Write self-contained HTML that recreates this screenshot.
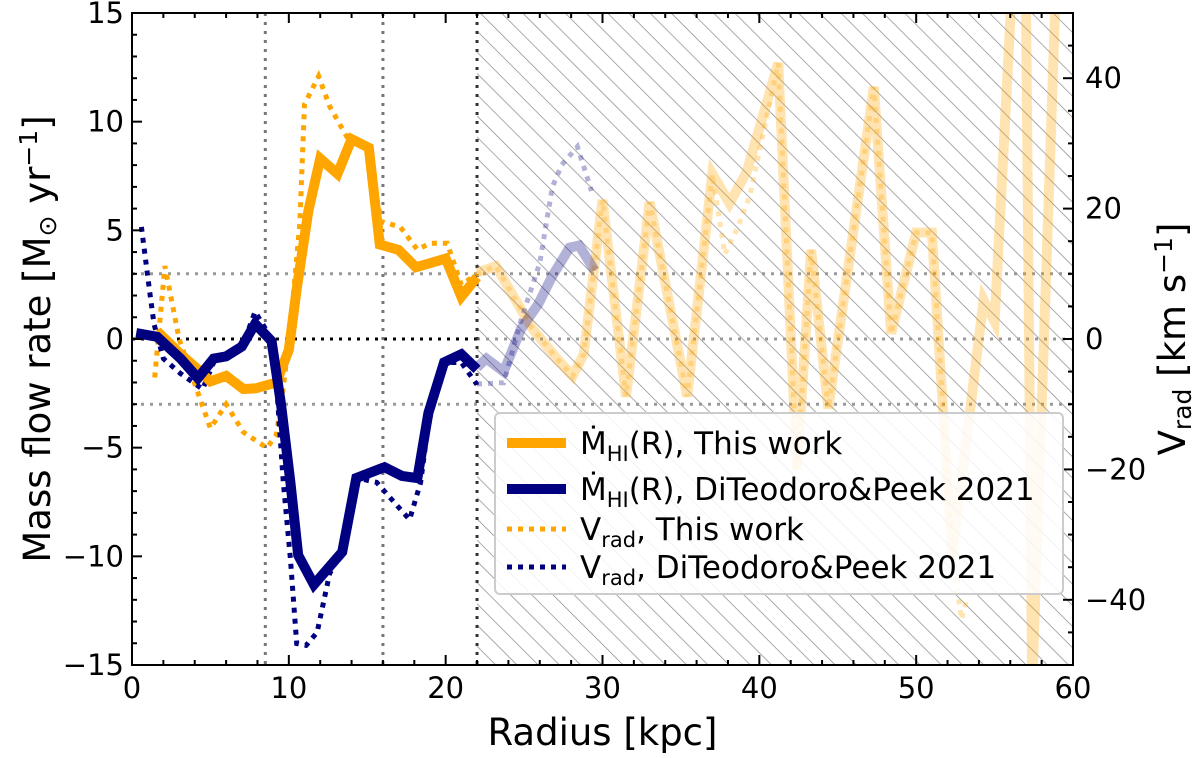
<!DOCTYPE html>
<html><head><meta charset="utf-8"><style>
html,body{margin:0;padding:0;background:#fff;}
svg{display:block;font-family:"DejaVu Sans","Liberation Sans",sans-serif;}
</style></head><body>
<svg id="chart" width="1200" height="758" viewBox="0 0 1200 758" xmlns="http://www.w3.org/2000/svg">
<defs>
<pattern id="hatch" patternUnits="userSpaceOnUse" width="15" height="15" patternTransform="rotate(-45)">
<line x1="0" y1="0" x2="0" y2="15" stroke="#888" stroke-width="1.4"/>
</pattern>
<clipPath id="plotclip"><rect x="132" y="13" width="941" height="652"/></clipPath>
</defs>
<g id="plot" clip-path="url(#plotclip)"></g>
<g id="axes"></g>
</svg>
<script>
const mdotR_this=[1.6,3.1,4.2,5.0,6.0,7.1,7.9,9.2,10.0,10.5,11.25,12.0,13.1,14.0,15.1,15.8,17.0,18.1,20.0,21.0,22.0];
const mdot_this=[0.36,-0.7,-1.4,-1.95,-1.7,-2.3,-2.27,-2.0,-0.5,2.3,5.9,8.3,7.6,9.2,8.8,4.35,4.1,3.3,3.7,1.95,2.85];
const mdotR_thisOut=[22.0,23.2,25.5,27.2,28.1,28.8,30.0,31.5,33.0,35.4,37.0,38.1,39.2,41.2,42.4,43.3,44.4,47.3,48.4,50.0,51.0,52.3,54.3,55.0,56.1,57.0,57.4,58.9,59.5,60];
const mdot_thisOut=[3.05,3.35,0.5,-1.0,-1.7,-0.7,6.4,-2.65,6.3,-2.65,7.6,6.25,7.7,12.7,-6,4.1,-3.2,11.6,0.25,4.9,4.9,-10,1.8,0.8,16,16,-16,16,16,16];
const mdotR_dtp=[0.27,1.6,3.1,4.2,5.2,6.0,7.0,7.85,8.9,9.5,10.1,10.6,11.6,13.4,14.3,16.1,17.2,18.2,18.9,19.9,21.0,22.0];
const mdot_dtp=[0.27,0.1,-0.9,-1.8,-0.9,-0.8,-0.35,0.7,-0.1,-3.0,-6.6,-9.95,-11.3,-9.8,-6.4,-5.9,-6.3,-6.4,-3.4,-1.07,-0.7,-1.4];
const mdotR_dtpOut=[22.0,22.6,23.7,24.8,25.9,26.8,27.9,28.5,29.5];
const mdot_dtpOut=[-1.3,-0.9,-1.5,0.45,1.6,2.9,4.2,4.3,3.15];
const vradR_this=[1.45,2.1,3.0,5.0,6.0,7.1,8.6,9.2,9.6,10.1,10.7,11.0,11.9,12.6,13.7,15.0,15.9,17.1,18.2,19.0,20.1,21.0,22.0];
const vrad_this=[-5.9,11.2,0,-13.7,-10,-14.3,-16.7,-14.7,-8.3,1.7,17.7,36,40.3,35.7,31,29,18,17.2,13.7,14.7,14.7,8.3,10];
const vradR_thisOut=[22.0,23.2,25.5,27.2,28.1,28.8,30.0,31.5,33.0,35.4,37.0,37.8,38.6,39.4,41.2,42.4,43.3,44.4,47.3,48.4,50.0,51.0,52.3,52.9,53.2];
const vrad_thisOut=[10,11.2,1.7,-3.3,-5.7,-2.3,21.3,-8.8,21,-8.8,25.3,13,17,22,42.3,-20,13.7,-10.7,38.7,0.8,16.3,16.3,-33,-43,-40];
const vradR_dtp=[0.6,1.1,1.4,2.0,3.1,4.5,5.2,6.3,7.1,7.85,8.6,9.2,9.65,10.1,10.5,11.1,11.8,12.6,13.5,14.3,15.6,16.7,17.7,18.4,18.9,19.9,21.0,22.0];
const vrad_dtp=[17.2,7.7,2.3,-3,-5.3,-7.7,-3.6,-2.3,-0.7,4.2,1.2,-6.5,-22,-33.7,-46.7,-47,-45,-36,-32,-21.3,-22,-25,-27.7,-22,-13,-3.6,-3.6,-7];
const vradR_dtpOut=[22.0,23.7,24.8,26.0,26.8,27.4,28.4,29.3];
const vrad_dtpOut=[-6.9,-6.7,2.8,11.7,23.3,26.7,29.5,22.7];
const xTicks=[0,10,20,30,40,50,60];
const yTicks=[-15,-10,-5,0,5,10,15];
const y2Ticks=[-40,-20,0,20,40];

const NS="http://www.w3.org/2000/svg";
const X0=132,X1=1073,Y0=665,Y1=13;
const sx=r=>X0+(r-0)/(60-0)*(X1-X0);
const sy=m=>Y0-(m+15)/30*(Y0-Y1);
const sy2=v=>Y0-(v+50)/100*(Y0-Y1);
const plot=document.getElementById('plot'),axes=document.getElementById('axes');
function mk(tag,attrs,parent){const e=document.createElementNS(NS,tag);for(const k in attrs)e.setAttribute(k,attrs[k]);parent.appendChild(e);return e;}

let h=mk('rect',{x:sx(22),y:Y1,width:X1-sx(22),height:Y0-Y1,fill:'url(#hatch)'},plot);


function ref(x1,y1,x2,y2,c,name){const l=mk('line',{x1,y1,x2,y2,stroke:c,'stroke-width':3,'stroke-dasharray':'3,6'},plot);

}
ref(sx(0),sy(3),X1,sy(3),'#999','hline-plus3');
ref(sx(0),sy(-3),X1,sy(-3),'#999','hline-minus3');
ref(sx(22),sy(0),X1,sy(0),'#999','hline-zero-outer');
ref(sx(0),sy(0),sx(22),sy(0),'#000','hline-zero');
ref(sx(8.5),Y1,sx(8.5),Y0,'#777','vline-8p5');
ref(sx(16),Y1,sx(16),Y0,'#777','vline-16');
ref(sx(22),Y1,sx(22),Y0,'#333','vline-22');

function series(R,V,scale,color,w,dash,op,name){
  const d=R.map((r,i)=>(i?'L':'M')+sx(r).toFixed(1)+','+scale(V[i]).toFixed(1)).join(' ');
  const p=mk('path',{d,fill:'none',stroke:color,'stroke-width':w,'stroke-linejoin':'miter','stroke-opacity':op},plot);
  if(dash)p.setAttribute('stroke-dasharray',dash);
  
  
}
series(mdotR_thisOut,mdot_thisOut,sy,'#ffa500',10,null,0.3,'mdot-this-work-outer');
series(vradR_thisOut,vrad_thisOut,sy2,'#ffa500',5,'5,6',0.3,'vrad-this-work-outer');
series(mdotR_dtpOut,mdot_dtpOut,sy,'#000080',10,null,0.3,'mdot-diteodoro-outer');
series(vradR_dtpOut,vrad_dtpOut,sy2,'#000080',5,'5,6',0.3,'vrad-diteodoro-outer');
series(vradR_this,vrad_this,sy2,'#ffa500',5,'5,6',1,'vrad-this-work');
series(vradR_dtp,vrad_dtp,sy2,'#000080',5,'5,6',1,'vrad-diteodoro');
series(mdotR_this,mdot_this,sy,'#ffa500',10,null,1,'mdot-this-work');
series(mdotR_dtp,mdot_dtp,sy,'#000080',10,null,1,'mdot-diteodoro');

let fr=mk('rect',{x:X0,y:Y1,width:X1-X0,height:Y0-Y1,fill:'none',stroke:'#000','stroke-width':2},axes);


function tick(x1,y1,x2,y2){mk('line',{x1,y1,x2,y2,stroke:'#000','stroke-width':2},axes);}
for(let r=0;r<=60;r+=2){const L=(r%10===0)?10:5;tick(sx(r),Y0,sx(r),Y0-L);tick(sx(r),Y1,sx(r),Y1+L);}
for(let m=-15;m<=15;m++){const L=(m%5===0)?10:5;tick(X0,sy(m),X0+L,sy(m));}
for(let v=-50;v<=50;v+=5){const L=(v%20===0)?10:5;tick(X1,sy2(v),X1-L,sy2(v));}
function txt(x,y,s,anchor,size,name,extra){const t=mk('text',Object.assign({x,y,'font-size':size,'text-anchor':anchor,fill:'#000'},extra||{}),axes);t.textContent=s;

return t;}
xTicks.forEach(r=>txt(sx(r),698,String(r),'middle',29,'x-tick-label'));
yTicks.forEach(m=>txt(X0-8,sy(m)+10,String(m).replace('-','\u2212'),'end',29,'y-tick-label'));
y2Ticks.forEach(v=>txt(X1+12,sy2(v)+10,String(v).replace('-','\u2212'),'start',29,'y2-tick-label'));
txt(sx(30),745,'Radius [kpc]','middle',37,'x-axis-title');
let yt=txt(0,0,'','middle',37,'y-axis-title',{transform:'translate(50,339) rotate(-90)'});
yt.innerHTML='Mass flow rate [M<tspan font-size="25" dy="6">\u2299</tspan><tspan dy="-6"> yr</tspan><tspan font-size="25" dy="-13">\u22121</tspan><tspan dy="13">]</tspan>';
let yt2=txt(0,0,'','middle',37,'y2-axis-title',{transform:'translate(1185,339) rotate(-90)'});
yt2.innerHTML='V<tspan font-size="25" dy="6">rad</tspan><tspan dy="-6"> [km s</tspan><tspan font-size="25" dy="-13">\u22121</tspan><tspan dy="13">]</tspan>';

const lg=mk('g',{},axes);


mk('rect',{x:495,y:413,width:568,height:181,rx:5,fill:'#fff','fill-opacity':0.85,stroke:'#ccc','stroke-width':2},lg);
const entries=[['#ffa500',10,null,443,'M\u0307<tspan font-size="21" dy="7">HI</tspan><tspan dy="-7">(R), This work</tspan>','legend-mdot-this-work'],
['#000080',10,null,489,'M\u0307<tspan font-size="21" dy="7">HI</tspan><tspan dy="-7">(R), DiTeodoro&amp;Peek 2021</tspan>','legend-mdot-diteodoro'],
['#ffa500',5,'5,6',529,'V<tspan font-size="21" dy="7">rad</tspan><tspan dy="-7">, This work</tspan>','legend-vrad-this-work'],
['#000080',5,'5,6',567,'V<tspan font-size="21" dy="7">rad</tspan><tspan dy="-7">, DiTeodoro&amp;Peek 2021</tspan>','legend-vrad-diteodoro']];
entries.forEach(e=>{
  const l=mk('line',{x1:507,y1:e[3],x2:566,y2:e[3],stroke:e[0],'stroke-width':e[1]},lg);
  if(e[2])l.setAttribute('stroke-dasharray',e[2]);
  const t=mk('text',{x:580,y:e[3]+11,'font-size':31,fill:'#000'},lg);
  t.innerHTML=e[4];
  
  
});
</script>
</body></html>
